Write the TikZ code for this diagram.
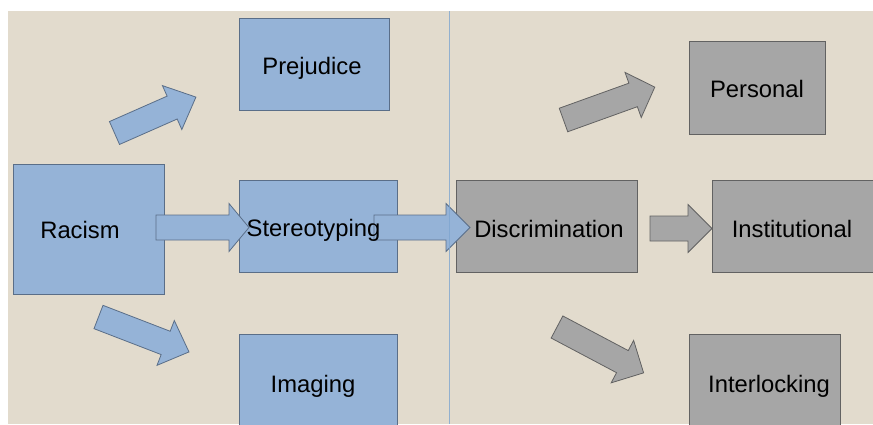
\documentclass[tikz,border=0pt]{standalone}
\usepackage{fontspec}
\setmainfont{Liberation Sans}

\definecolor{paper}{HTML}{E2DBCD}
\definecolor{boxblue}{HTML}{95B3D7}
\definecolor{edgeblue}{HTML}{5A6E88}
\definecolor{boxgray}{HTML}{A6A6A6}
\definecolor{edgegray}{HTML}{626262}
\definecolor{guide}{HTML}{7FA6D0}

\tikzset{
  bluebox/.style={draw=edgeblue, fill=boxblue, line width=1pt, inner sep=0pt},
  graybox/.style={draw=edgegray, fill=boxgray, line width=1pt, inner sep=0pt},
  boxtext/.style={inner sep=0pt, font=\fontsize{23.8}{28}\selectfont},
  bluearrow/.style={draw=edgeblue, fill=boxblue, line width=0.8pt},
  grayarrow/.style={draw=edgegray, fill=boxgray, line width=0.8pt}
}

\begin{document}
\begin{tikzpicture}[x=1pt,y=-1pt]
    \useasboundingbox (0,0) rectangle (873,424);
    \clip (0,0) rectangle (873,424);
    \fill[white] (0,0) rectangle (873,424);
    \fill[paper] (8,11) rectangle (873,424);

    % boxes
    \node[bluebox, minimum width=151pt, minimum height=130pt] (racism) at (88.5,229.5) {};
    \node[bluebox, minimum width=150pt, minimum height=92pt] (prejudice) at (314,64) {};
    \node[bluebox, minimum width=158pt, minimum height=92pt] (stereo) at (318,226) {};
    \node[bluebox, minimum width=158pt, minimum height=92pt] (imaging) at (318,380) {};
    \node[graybox, minimum width=181pt, minimum height=92pt] (discr) at (546.5,226) {};
    \node[graybox, minimum width=136pt, minimum height=93pt] (personal) at (757,87.5) {};
    \node[graybox, minimum width=164pt, minimum height=92pt] (instit) at (794,226) {};
    \node[graybox, minimum width=151pt, minimum height=92pt] (interlock) at (764.5,380) {};

    % block arrows: length, head length
    \newcommand{\blkarrow}[2]{(0,-12.5) -- (#1-#2,-12.5) -- (#1-#2,-24) -- (#1,0) -- (#1-#2,24) -- (#1-#2,12.5) -- (0,12.5) -- cycle}

    \coordinate (rp) at (114.5,133);
    \coordinate (ri) at (98.5,317);
    \coordinate (rs) at (156,227.5);
    \coordinate (sd) at (374,227.5);
    \coordinate (di) at (650,228.5);
    \coordinate (dp) at (563.5,120);
    \coordinate (dl) at (557,327);

    \draw[bluearrow, shift={(rp)}, rotate=23.8] \blkarrow{89}{26};
    \draw[bluearrow, shift={(ri)}, rotate=-21.1] \blkarrow{97}{25};
    \draw[bluearrow, shift={(rs)}] \blkarrow{93}{20};
    \draw[bluearrow, shift={(sd)}] \blkarrow{96}{24};
    \draw[grayarrow, shift={(di)}] \blkarrow{62}{24};
    \draw[grayarrow, shift={(dp)}, rotate=19.8] \blkarrow{97}{23};
    \draw[grayarrow, shift={(dl)}, rotate=-27.9] \blkarrow{98}{24};

    % guide line
    \draw[guide, line width=0.7pt, opacity=0.8] (449,11) -- (449,424);

    % texts
    \node[boxtext] (racism-t) at (80,230) {Racism};
    \node[boxtext] (prejudice-t) at (312,68) {Prejudice};
    \node[boxtext] (stereo-t) at (313.5,230) {Stereotyping};
    \node[boxtext] (imaging-t) at (313,386) {Imaging};
    \node[boxtext] (discr-t) at (549,229) {Discrimination};
    \node[boxtext] (personal-t) at (757,89) {Personal};
    \node[boxtext] (instit-t) at (792,229) {Institutional};
    \node[boxtext] (interlock-t) at (769,386) {Interlocking};
\end{tikzpicture}
\end{document}
